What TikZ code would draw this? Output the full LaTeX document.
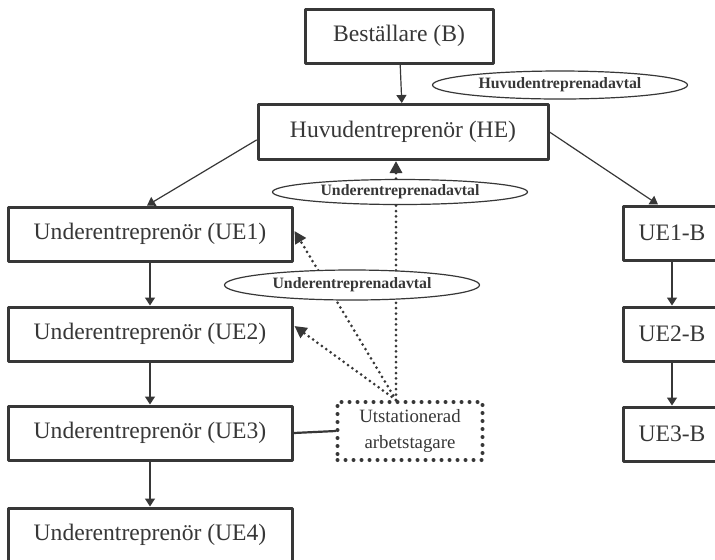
\documentclass[tikz,border=0pt]{standalone}
\usepackage{fontspec}
\setmainfont{Liberation Serif}
\usetikzlibrary{arrows.meta,shapes.geometric}
\definecolor{ink}{RGB}{55,55,55}

\begin{document}
\begin{tikzpicture}[x=0.5pt, y=-0.5pt, line cap=round, line join=round, >=Stealth,
    box/.style={draw=ink, line width=1.5pt, text=ink, inner sep=0pt,
      font=\fontsize{11.8}{14}\selectfont, minimum height=27pt},
    wide/.style={box, minimum width=142pt},
    narrow/.style={box, minimum width=49pt},
    pact/.style={ellipse, draw=ink, line width=0.6pt, fill=white, inner sep=0pt,
      text=ink, font=\bfseries\fontsize{7.9}{9}\selectfont,
      minimum width=127.5pt, minimum height=14pt},
    worker/.style={draw=ink, line width=2pt, dash pattern=on 0pt off 4pt,
      align=center, text=ink, font=\fontsize{9.4}{13}\selectfont,
      minimum width=72.5pt, minimum height=29pt, inner sep=0pt},
    link/.style={draw=ink, line width=0.6pt, -{Triangle[length=4pt,width=5pt]}},
    dotlink/.style={draw=ink, line width=1.5pt, dash pattern=on 0pt off 2.7pt,
      -{Triangle[length=6pt,width=6pt]}}]
  \clip (0,0) rectangle (715,559);
  \fill[white] (0,0) rectangle (715,559);
  % top of the chain
  \node[box, minimum width=94pt] (B) at (399,36) {Beställare (B)};
  \node[box, minimum width=145pt, minimum height=27.5pt] (HE) at (403,132) {Huvudentreprenör (HE)};
  % left column
  \node[wide] (UE1) at (150,234) {Underentreprenör (UE1)};
  \node[wide] (UE2) at (150,334) {Underentreprenör (UE2)};
  \node[wide] (UE3) at (150,433) {Underentreprenör (UE3)};
  \node[wide] (UE4) at (150,535) {Underentreprenör (UE4)};
  % right column
  \node[narrow] (UE1B) at (672,233) {UE1-B};
  \node[narrow] (UE2B) at (672,334) {UE2-B};
  \node[narrow] (UE3B) at (672,434) {UE3-B};
  % posted worker
  \node[worker] (W) at (410,431) {Utstationerad\\arbetstagare};
  \coordinate (Wtop) at ([xshift=-7pt]W.north);

  % solid arrows
  \draw[link] (B) -- (HE);
  \draw[link] ([yshift=-4pt]HE.west) -- ([xshift=-1.5pt]UE1.north);
  \draw[link] (HE.east) -- ([xshift=-7pt]UE1B.north);
  \foreach \a/\b in {UE1/UE2, UE2/UE3, UE3/UE4, UE1B/UE2B, UE2B/UE3B} {
    \draw[link] (\a) -- (\b);
  }
  \draw[draw=ink, line width=1.1pt] (UE3.east) -- (W.west);
  % dotted arrows
  \draw[dotlink] (Wtop) -- (Wtop |- HE.south);
  \draw[dotlink] (Wtop) -- ([xshift=0.5pt,yshift=1.5pt]UE1.east);
  \draw[dotlink] (Wtop) -- ([xshift=0.5pt,yshift=4pt]UE2.east);
  % agreements
  \node[pact] (HA) at (560,85) {Huvudentreprenadavtal};
  \node[pact, minimum height=12.5pt] (UA1) at (400,192) {Underentreprenadavtal};
  \node[pact, minimum height=15pt] (UA2) at (352,285) {Underentreprenadavtal};
\end{tikzpicture}
\end{document}
